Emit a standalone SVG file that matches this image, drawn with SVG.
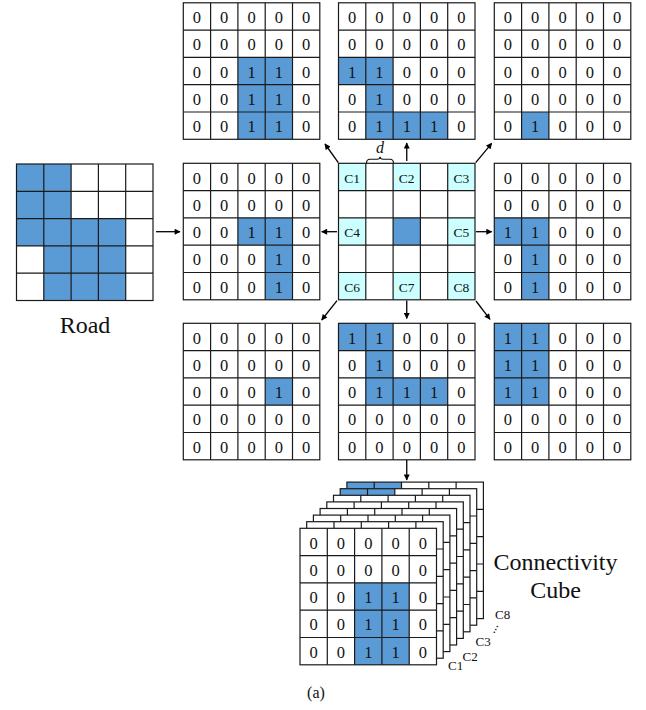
<svg xmlns="http://www.w3.org/2000/svg" xmlns:xlink="http://www.w3.org/1999/xlink" width="646" height="710" viewBox="0 0 646 710">
<style>
.bg{fill:#fff}
.b{fill:#5B9BD5}
.cy{fill:#CCFFFF}
.gl{fill:none;stroke:#1a1a1a;stroke-width:1.2}
.n{font-family:"Liberation Serif","Times New Roman",serif;font-size:16.5px;text-anchor:middle;fill:#111}
.c{font-size:13.5px}
.lab{font-family:"Liberation Serif","Times New Roman",serif;font-size:24px;text-anchor:middle;fill:#111}
.cl{font-family:"Liberation Serif","Times New Roman",serif;font-size:13px;fill:#111}
.conn line{stroke:#000;stroke-width:1.3;marker-end:url(#ah)}
</style>
<defs>
<marker id="ah" viewBox="0 0 10 10" refX="9" refY="5" markerWidth="7" markerHeight="6" markerUnits="userSpaceOnUse" orient="auto">
<path d="M0,0L10,5L0,10z" fill="#000"/>
</marker>
<g id="gl">
<rect class="gl" width="136.5" height="136.5"/>
<path class="gl" d="M27.3,0V136.5M54.6,0V136.5M81.9,0V136.5M109.2,0V136.5M0,27.3H136.5M0,54.6H136.5M0,81.9H136.5M0,109.2H136.5"/>
</g>
</defs>

<!-- Road -->
<g id="road">
<g transform="translate(16.5,164)">
<rect class="bg" width="136.5" height="136.5"/>
<rect class="b" x="0" y="0" width="54.6" height="54.6"/>
<rect class="b" x="0" y="54.6" width="109.2" height="27.3"/>
<rect class="b" x="27.3" y="81.9" width="81.9" height="54.6"/>
<use href="#gl"/>
</g>
<text class="lab" x="85" y="333">Road</text>
</g>

<!-- C1 top-left -->
<g id="grid-c1" transform="translate(183.3,2.8)">
<rect class="bg" width="136.5" height="136.5"/>
<rect class="b" x="54.6" y="54.6" width="54.6" height="81.9"/>
<use href="#gl"/>
<text class="n" x="13.65 40.95 68.25 95.55 122.85" y="20.3">00000</text>
<text class="n" x="13.65 40.95 68.25 95.55 122.85" y="47.6">00000</text>
<text class="n" x="13.65 40.95 68.25 95.55 122.85" y="74.9">00110</text>
<text class="n" x="13.65 40.95 68.25 95.55 122.85" y="102.2">00110</text>
<text class="n" x="13.65 40.95 68.25 95.55 122.85" y="129.5">00110</text>
</g>

<!-- C2 top-middle -->
<g id="grid-c2" transform="translate(338.5,2.8)">
<rect class="bg" width="136.5" height="136.5"/>
<rect class="b" x="0" y="54.6" width="54.6" height="27.3"/>
<rect class="b" x="27.3" y="81.9" width="27.3" height="27.3"/>
<rect class="b" x="27.3" y="109.2" width="81.9" height="27.3"/>
<use href="#gl"/>
<text class="n" x="13.65 40.95 68.25 95.55 122.85" y="20.3">00000</text>
<text class="n" x="13.65 40.95 68.25 95.55 122.85" y="47.6">00000</text>
<text class="n" x="13.65 40.95 68.25 95.55 122.85" y="74.9">11000</text>
<text class="n" x="13.65 40.95 68.25 95.55 122.85" y="102.2">01000</text>
<text class="n" x="13.65 40.95 68.25 95.55 122.85" y="129.5">01110</text>
</g>

<!-- C3 top-right -->
<g id="grid-c3" transform="translate(494.3,2.8)">
<rect class="bg" width="136.5" height="136.5"/>
<rect class="b" x="27.3" y="109.2" width="27.3" height="27.3"/>
<use href="#gl"/>
<text class="n" x="13.65 40.95 68.25 95.55 122.85" y="20.3">00000</text>
<text class="n" x="13.65 40.95 68.25 95.55 122.85" y="47.6">00000</text>
<text class="n" x="13.65 40.95 68.25 95.55 122.85" y="74.9">00000</text>
<text class="n" x="13.65 40.95 68.25 95.55 122.85" y="102.2">00000</text>
<text class="n" x="13.65 40.95 68.25 95.55 122.85" y="129.5">01000</text>
</g>

<!-- C4 mid-left -->
<g id="grid-c4" transform="translate(183.3,163.3)">
<rect class="bg" width="136.5" height="136.5"/>
<rect class="b" x="54.6" y="54.6" width="54.6" height="27.3"/>
<rect class="b" x="81.9" y="81.9" width="27.3" height="54.6"/>
<use href="#gl"/>
<text class="n" x="13.65 40.95 68.25 95.55 122.85" y="20.3">00000</text>
<text class="n" x="13.65 40.95 68.25 95.55 122.85" y="47.6">00000</text>
<text class="n" x="13.65 40.95 68.25 95.55 122.85" y="74.9">00110</text>
<text class="n" x="13.65 40.95 68.25 95.55 122.85" y="102.2">00010</text>
<text class="n" x="13.65 40.95 68.25 95.55 122.85" y="129.5">00010</text>
</g>

<!-- Center neighbourhood -->
<g id="center" transform="translate(338.5,163.3)">
<rect class="bg" width="136.5" height="136.5"/>
<rect class="cy" x="0" y="0" width="27.3" height="27.3"/>
<rect class="cy" x="54.6" y="0" width="27.3" height="27.3"/>
<rect class="cy" x="109.2" y="0" width="27.3" height="27.3"/>
<rect class="cy" x="0" y="54.6" width="27.3" height="27.3"/>
<rect class="b" x="54.6" y="54.6" width="27.3" height="27.3"/>
<rect class="cy" x="109.2" y="54.6" width="27.3" height="27.3"/>
<rect class="cy" x="0" y="109.2" width="27.3" height="27.3"/>
<rect class="cy" x="54.6" y="109.2" width="27.3" height="27.3"/>
<rect class="cy" x="109.2" y="109.2" width="27.3" height="27.3"/>
<use href="#gl"/>
<text class="n c" x="13.65" y="19.3">C1</text>
<text class="n c" x="68.25" y="19.3">C2</text>
<text class="n c" x="122.85" y="19.3">C3</text>
<text class="n c" x="13.65" y="73.9">C4</text>
<text class="n c" x="122.85" y="73.9">C5</text>
<text class="n c" x="13.65" y="128.5">C6</text>
<text class="n c" x="68.25" y="128.5">C7</text>
<text class="n c" x="122.85" y="128.5">C8</text>
<path d="M28,0 Q28,-4 31.5,-4 L38.5,-4 Q41.6,-4 41.6,-6.5 Q41.6,-4 44.7,-4 L51.5,-4 Q55,-4 55,0" fill="none" stroke="#111" stroke-width="1.1"/>
<text x="41.6" y="-10" font-family="Liberation Serif, Times New Roman, serif" font-size="16" font-style="italic" text-anchor="middle" fill="#111">d</text>
</g>

<!-- C5 mid-right -->
<g id="grid-c5" transform="translate(494.3,163.3)">
<rect class="bg" width="136.5" height="136.5"/>
<rect class="b" x="0" y="54.6" width="54.6" height="27.3"/>
<rect class="b" x="27.3" y="81.9" width="27.3" height="54.6"/>
<use href="#gl"/>
<text class="n" x="13.65 40.95 68.25 95.55 122.85" y="20.3">00000</text>
<text class="n" x="13.65 40.95 68.25 95.55 122.85" y="47.6">00000</text>
<text class="n" x="13.65 40.95 68.25 95.55 122.85" y="74.9">11000</text>
<text class="n" x="13.65 40.95 68.25 95.55 122.85" y="102.2">01000</text>
<text class="n" x="13.65 40.95 68.25 95.55 122.85" y="129.5">01000</text>
</g>

<!-- C6 bottom-left -->
<g id="grid-c6" transform="translate(183.3,323.3)">
<rect class="bg" width="136.5" height="136.5"/>
<rect class="b" x="81.9" y="54.6" width="27.3" height="27.3"/>
<use href="#gl"/>
<text class="n" x="13.65 40.95 68.25 95.55 122.85" y="20.3">00000</text>
<text class="n" x="13.65 40.95 68.25 95.55 122.85" y="47.6">00000</text>
<text class="n" x="13.65 40.95 68.25 95.55 122.85" y="74.9">00010</text>
<text class="n" x="13.65 40.95 68.25 95.55 122.85" y="102.2">00000</text>
<text class="n" x="13.65 40.95 68.25 95.55 122.85" y="129.5">00000</text>
</g>

<!-- C7 bottom-middle -->
<g id="grid-c7" transform="translate(338.5,323.3)">
<rect class="bg" width="136.5" height="136.5"/>
<rect class="b" x="0" y="0" width="54.6" height="27.3"/>
<rect class="b" x="27.3" y="27.3" width="27.3" height="27.3"/>
<rect class="b" x="27.3" y="54.6" width="81.9" height="27.3"/>
<use href="#gl"/>
<text class="n" x="13.65 40.95 68.25 95.55 122.85" y="20.3">11000</text>
<text class="n" x="13.65 40.95 68.25 95.55 122.85" y="47.6">01000</text>
<text class="n" x="13.65 40.95 68.25 95.55 122.85" y="74.9">01110</text>
<text class="n" x="13.65 40.95 68.25 95.55 122.85" y="102.2">00000</text>
<text class="n" x="13.65 40.95 68.25 95.55 122.85" y="129.5">00000</text>
</g>

<!-- C8 bottom-right -->
<g id="grid-c8" transform="translate(494.3,323.3)">
<rect class="bg" width="136.5" height="136.5"/>
<rect class="b" x="0" y="0" width="54.6" height="81.9"/>
<use href="#gl"/>
<text class="n" x="13.65 40.95 68.25 95.55 122.85" y="20.3">11000</text>
<text class="n" x="13.65 40.95 68.25 95.55 122.85" y="47.6">11000</text>
<text class="n" x="13.65 40.95 68.25 95.55 122.85" y="74.9">11000</text>
<text class="n" x="13.65 40.95 68.25 95.55 122.85" y="102.2">00000</text>
<text class="n" x="13.65 40.95 68.25 95.55 122.85" y="129.5">00000</text>
</g>

<!-- Connectivity cube -->
<g id="cube">
<g transform="translate(346.9,482.1)"><rect class="bg" width="136.5" height="136.5"/><rect class="b" x="0" y="0" width="54.6" height="27.3"/><use href="#gl"/></g>
<g transform="translate(340.2,488.7)"><rect class="bg" width="136.5" height="136.5"/><rect class="b" x="0" y="0" width="54.6" height="27.3"/><use href="#gl"/></g>
<g transform="translate(333.5,495.3)"><rect class="bg" width="136.5" height="136.5"/><use href="#gl"/></g>
<g transform="translate(326.8,501.9)"><rect class="bg" width="136.5" height="136.5"/><use href="#gl"/></g>
<g transform="translate(320.1,508.5)"><rect class="bg" width="136.5" height="136.5"/><use href="#gl"/></g>
<g transform="translate(313.4,515.1)"><rect class="bg" width="136.5" height="136.5"/><use href="#gl"/></g>
<g transform="translate(306.7,521.7)"><rect class="bg" width="136.5" height="136.5"/><use href="#gl"/></g>
<g transform="translate(300,528.3)">
<rect class="bg" width="136.5" height="136.5"/>
<rect class="b" x="54.6" y="54.6" width="54.6" height="81.9"/>
<use href="#gl"/>
<text class="n" x="13.65 40.95 68.25 95.55 122.85" y="20.3">00000</text>
<text class="n" x="13.65 40.95 68.25 95.55 122.85" y="47.6">00000</text>
<text class="n" x="13.65 40.95 68.25 95.55 122.85" y="74.9">00110</text>
<text class="n" x="13.65 40.95 68.25 95.55 122.85" y="102.2">00110</text>
<text class="n" x="13.65 40.95 68.25 95.55 122.85" y="129.5">00110</text>
</g>
<text class="cl" x="448" y="670">C1</text>
<text class="cl" x="462.5" y="661">C2</text>
<text class="cl" x="475.5" y="646">C3</text>
<text class="cl" transform="rotate(-62 494 634)" x="494" y="634">...</text>
<text class="cl" x="495" y="619">C8</text>
<text class="lab" x="555.5" y="570">Connectivity</text>
<text class="lab" x="555.5" y="598">Cube</text>
</g>

<!-- Connectors -->
<g id="connectors" class="conn">
<line x1="156" y1="231.7" x2="180" y2="231.7"/>
<line x1="338.3" y1="162.7" x2="325" y2="144"/>
<line x1="406.75" y1="161" x2="406.75" y2="143"/>
<line x1="475.7" y1="162.7" x2="491.7" y2="143.3"/>
<line x1="337" y1="231.7" x2="321.7" y2="231.7"/>
<line x1="476" y1="231.7" x2="491.7" y2="231.7"/>
<line x1="337" y1="300.7" x2="321.7" y2="320"/>
<line x1="406.75" y1="300.5" x2="406.75" y2="318.5"/>
<line x1="476" y1="301" x2="490" y2="319.3"/>
<line x1="406.75" y1="460" x2="406.75" y2="480"/>
</g>

<text x="316" y="698" font-family="Liberation Serif, Times New Roman, serif" font-size="16" text-anchor="middle" fill="#111">(a)</text>
</svg>
